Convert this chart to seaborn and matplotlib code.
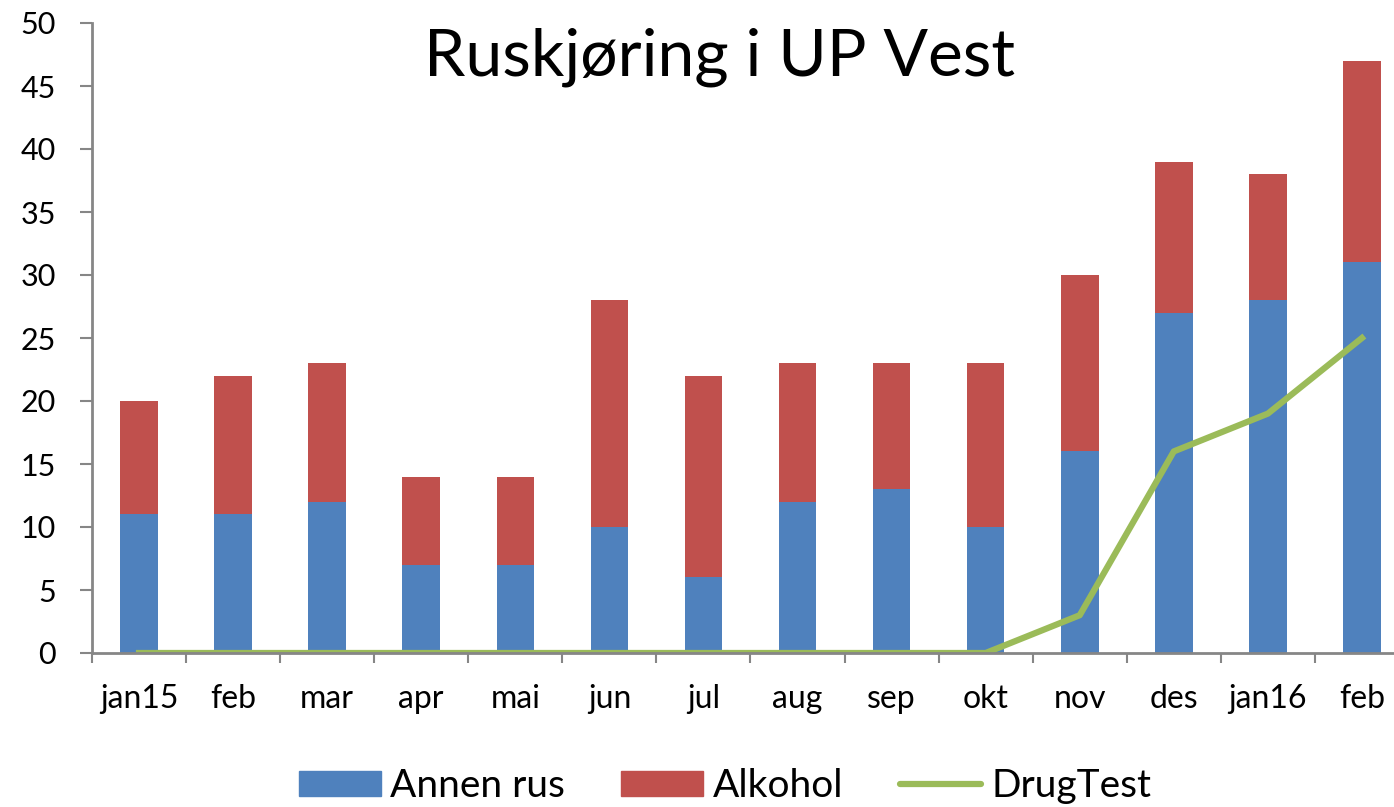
import numpy as np
import pandas as pd
import seaborn as sns
import matplotlib.pyplot as plt
from matplotlib.patches import Patch
from matplotlib.lines import Line2D
from matplotlib.ticker import FixedLocator

months = ["jan15", "feb", "mar", "apr", "mai", "jun", "jul",
          "aug", "sep", "okt", "nov", "des", "jan16", "feb"]
annen_rus = [11, 11, 12, 7, 7, 10, 6, 12, 13, 10, 16, 27, 28, 31]
alkohol = [9, 11, 11, 7, 7, 18, 16, 11, 10, 13, 14, 12, 10, 16]
drugtest = [0, 0, 0, 0, 0, 0, 0, 0, 0, 0, 3, 16, 19, 25]

blue = "#4F81BD"
red = "#C0504D"
green = "#9BBB59"
grey = "#868686"

df = pd.DataFrame({"pos": range(len(months)), "month": months,
                   "annen": annen_rus, "alkohol": alkohol, "drug": drugtest})
df["total"] = df["annen"] + df["alkohol"]

sns.set_style("white")
plt.rcParams["font.family"] = ["Lato", "DejaVu Sans"]
plt.rcParams["text.color"] = "black"
plt.rcParams["xtick.labelcolor"] = "black"
plt.rcParams["ytick.labelcolor"] = "black"

fig = plt.figure(figsize=(13.94, 8.07), dpi=100)
ax = fig.add_axes([92 / 1394, 1 - 653 / 807, 1 - 92 / 1394, (653 - 23) / 807])

# stacked bars: total in red, blue part drawn on top
sns.barplot(data=df, x="pos", y="total", color=red, width=0.4,
            saturation=1, linewidth=0, ax=ax)
sns.barplot(data=df, x="pos", y="annen", color=blue, width=0.4,
            saturation=1, linewidth=0, ax=ax)
sns.lineplot(x=np.arange(len(months)), y=df["drug"], color=green,
             linewidth=4.5, ax=ax, solid_capstyle="projecting")

ax.set_ylim(0, 50)
ax.set_xlim(-0.5, 13.5 - 15 / 94.1)
ax.set_yticks(range(0, 51, 5))
ax.set_xticks(range(len(months)))
ax.set_xticklabels(months)
ax.xaxis.set_minor_locator(FixedLocator(np.arange(-0.5, 14, 1)))
ax.set_xlabel("")
ax.set_ylabel("")

for s in ["top", "right"]:
    ax.spines[s].set_visible(False)
for s in ["left", "bottom"]:
    ax.spines[s].set_color(grey)
    ax.spines[s].set_linewidth(2)

ax.tick_params(axis="y", which="major", direction="out", length=9, width=1.5,
               color=grey, labelsize=22, pad=17, left=True)
ax.tick_params(axis="x", which="major", length=0, labelsize=23, pad=22)
ax.tick_params(axis="x", which="minor", direction="out", length=7, width=1.5,
               color=grey, bottom=True)

fig.text(720 / 1394, 1 - 57 / 807, "Ruskjøring i UP Vest", fontsize=47.5,
         ha="center", va="center")

handles = [Patch(color=blue, label="Annen rus"),
           Patch(color=red, label="Alkohol"),
           Line2D([], [], color=green, linewidth=4.5, label="DrugTest")]
fig.legend(handles=handles, loc="center", bbox_to_anchor=(725 / 1394, 1 - 786 / 807),
           ncol=3, frameon=False, fontsize=28, handlelength=2.1,
           handleheight=0.62, handletextpad=0.25, columnspacing=1.45)

fig.savefig("out.png", dpi=100)
